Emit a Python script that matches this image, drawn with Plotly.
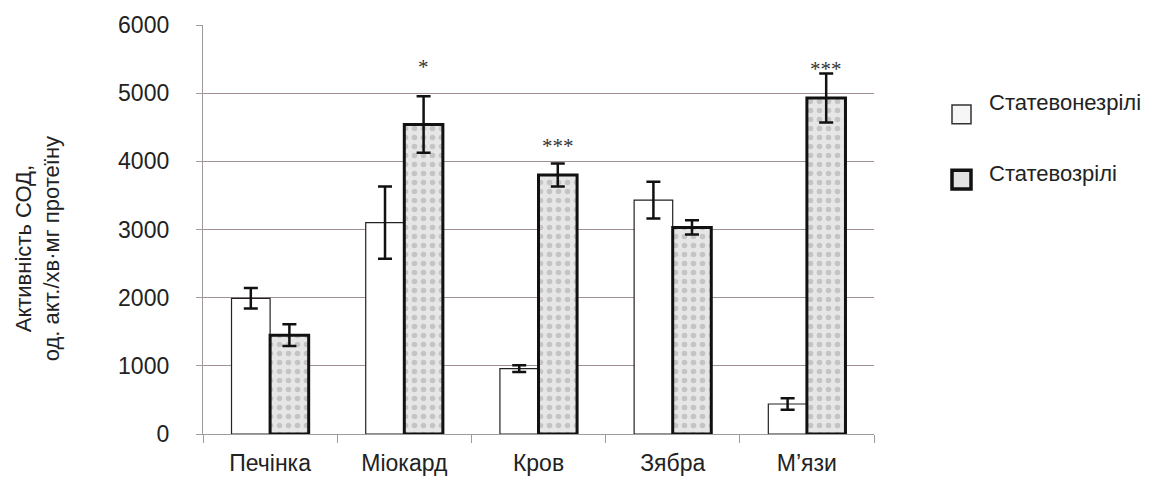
import plotly.graph_objects as go

categories = ["Печінка", "Міокард", "Кров", "Зябра", "М’язи"]
immature = [1990, 3100, 960, 3430, 440]
immature_err = [150, 530, 50, 270, 85]
mature = [1450, 4540, 3800, 3030, 4930]
mature_err = [160, 415, 170, 105, 360]
sig_labels = ["", "*", "***", "", "***"]
sig_y = [None, 5380, 4220, None, 5350]
y_ticks = [0, 1000, 2000, 3000, 4000, 5000, 6000]
series_names = ["Статевонезрілі", "Статевозрілі"]
y_title = "Активність СОД,<br>од. акт./хв·мг протеїну"

FONT = "Liberation Sans, Arial, sans-serif"

fig = go.Figure()
fig.add_trace(go.Bar(
    x=categories, y=immature, name=series_names[0], showlegend=False,
    marker=dict(color="white", line=dict(color="#222222", width=1.2)),
    error_y=dict(type="data", array=immature_err, visible=True,
                 color="#111111", thickness=2.5, width=7),
))
fig.add_trace(go.Bar(
    x=categories, y=mature, name=series_names[1], showlegend=False,
    marker=dict(color="#e2e2e2", line=dict(color="#111111", width=3),
                pattern=dict(shape=".", bgcolor="#e6e6e6", fgcolor="#c4c4c4",
                             size=9, solidity=0.3, fillmode="replace")),
    error_y=dict(type="data", array=mature_err, visible=True,
                 color="#111111", thickness=2.5, width=7),
))

annotations = []
for c, lab, yv in zip(categories, sig_labels, sig_y):
    if lab:
        annotations.append(dict(x=c, y=yv, xref="x", yref="y", text=lab,
                                showarrow=False, xshift=19,
                                font=dict(family="Liberation Serif, Times New Roman, serif",
                                          size=21, color="#333333")))

# legend and axis title (placed manually)
L, R, T, B = 203, 874, 20, 434
def px(x):
    return (x - L) / (R - L)
def py(y):
    return (B - y) / (B - T)

shapes = [
    dict(type="rect", xref="paper", yref="paper", x0=px(952), x1=px(971), y0=py(120), y1=py(101),
         line=dict(color="#333333", width=1.5), fillcolor="#f6f6f6"),
    dict(type="rect", xref="paper", yref="paper", x0=px(952), x1=px(971), y0=py(186), y1=py(167),
         line=dict(color="#111111", width=3.5), fillcolor="#e2e2e2"),
]
annotations.append(dict(x=px(987), y=py(98), xref="paper", yref="paper", text=series_names[0],
                        showarrow=False, xanchor="left", yanchor="middle",
                        font=dict(family=FONT, size=22, color="#222222")))
annotations.append(dict(x=px(987), y=py(170), xref="paper", yref="paper", text=series_names[1],
                        showarrow=False, xanchor="left", yanchor="middle",
                        font=dict(family=FONT, size=22, color="#222222")))
annotations.append(dict(x=px(38), y=py(247), xref="paper", yref="paper", text=y_title,
                        showarrow=False, textangle=-90, xanchor="center", yanchor="middle",
                        font=dict(family=FONT, size=22, color="#222222")))

fig.update_layout(
    width=1150, height=488,
    margin=dict(l=L, r=1150 - R, t=T, b=488 - B),
    paper_bgcolor="white", plot_bgcolor="white",
    barmode="group", bargap=0.425, bargroupgap=0,
    font=dict(family=FONT, size=23, color="#222222"),
    showlegend=False,
    annotations=annotations,
    shapes=shapes,
)
fig.update_xaxes(
    showline=True, linecolor="#a09a9a", linewidth=1.3,
    ticks="outside", tickson="boundaries", ticklen=8, tickcolor="#a09a9a",
    showgrid=False, ticklabelstandoff=8,
    tickfont=dict(size=23),
)
fig.update_yaxes(
    range=[0, 6000], tickvals=y_ticks,
    showline=True, linecolor="#a09a9a", linewidth=1.3,
    ticks="outside", ticklen=6, tickcolor="#a09a9a",
    showgrid=True, gridcolor="#a09090", gridwidth=1.2,
    zeroline=False, ticklabelstandoff=22,
    tickfont=dict(size=23),
)

fig.write_html("out.html")
